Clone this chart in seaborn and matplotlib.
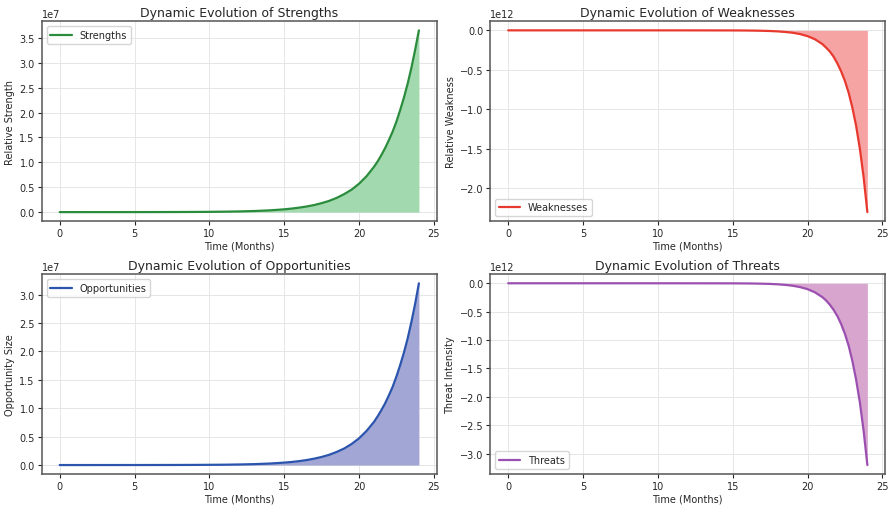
import pandas as pd
import matplotlib
matplotlib.use("Agg")
import matplotlib.pyplot as plt
import seaborn as sns

# Months, values (denser near the end where curves bend)
months = [0, 1, 2, 3, 4, 5, 6, 7, 8, 9, 10, 11, 12, 13, 14, 14.5, 15, 15.5, 16, 16.5,
          17, 17.5, 18, 18.5, 19, 19.5, 20, 20.5, 21, 21.25, 21.5, 21.75, 22, 22.25, 22.5,
          22.75, 23, 23.25, 23.5, 23.75, 24]

# Strengths (x 1e7)
strengths = [0.0001, 0.0001, 0.0002, 0.0003, 0.0004, 0.0006, 0.0009, 0.0014, 0.0022, 0.0035,
             0.0055, 0.009, 0.014, 0.022, 0.035, 0.045, 0.056, 0.071, 0.09, 0.113,
             0.142, 0.18, 0.225, 0.285, 0.36, 0.45, 0.57, 0.72, 0.91, 1.02, 1.15, 1.29,
             1.45, 1.62, 1.82, 2.05, 2.3, 2.58, 2.9, 3.26, 3.65]

# Weaknesses (x 1e12)
weaknesses = [0.0, 0.0, 0.0, 0.0, 0.0, 0.0, -0.00001, -0.00001, -0.00002, -0.00004,
              -0.00007, -0.00012, -0.0002, -0.0004, -0.0007, -0.0009, -0.001, -0.0015, -0.0023, -0.0035,
              -0.0055, -0.0085, -0.013, -0.02, -0.03, -0.047, -0.073, -0.113, -0.175, -0.22, -0.27, -0.335,
              -0.42, -0.52, -0.64, -0.79, -0.98, -1.21, -1.5, -1.86, -2.3]

# Opportunities (x 1e7)
opportunities = [0.0001, 0.0001, 0.0001, 0.0002, 0.0003, 0.0004, 0.0006, 0.001, 0.0015, 0.0025,
                 0.004, 0.006, 0.01, 0.016, 0.026, 0.034, 0.043, 0.054, 0.069, 0.088,
                 0.112, 0.142, 0.18, 0.23, 0.29, 0.37, 0.47, 0.6, 0.76, 0.86, 0.97, 1.09,
                 1.23, 1.38, 1.56, 1.76, 1.98, 2.23, 2.52, 2.84, 3.2]

# Threats (x 1e12)
threats = [0.0, 0.0, 0.0, 0.0, 0.0, 0.0, -0.00001, -0.00002, -0.00003, -0.00005,
           -0.00009, -0.00016, -0.0003, -0.0005, -0.0009, -0.0011, -0.0013, -0.002, -0.003, -0.0047,
           -0.0075, -0.0115, -0.018, -0.028, -0.043, -0.067, -0.103, -0.16, -0.245, -0.305, -0.38, -0.47,
           -0.58, -0.72, -0.89, -1.1, -1.37, -1.7, -2.1, -2.6, -3.2]

panels = [
    ("Strengths", strengths, 1e7, "Relative Strength", "Dynamic Evolution of Strengths",
     "#2a8c3c", "#a3d9ae", "upper left"),
    ("Weaknesses", weaknesses, 1e12, "Relative Weakness", "Dynamic Evolution of Weaknesses",
     "#e8392f", "#f5a3a3", "lower left"),
    ("Opportunities", opportunities, 1e7, "Opportunity Size", "Dynamic Evolution of Opportunities",
     "#2b55ad", "#a2a6d4", "upper left"),
    ("Threats", threats, 1e12, "Threat Intensity", "Dynamic Evolution of Threats",
     "#9b4fb0", "#d8a5cf", "lower left"),
]

sns.set_style("ticks")
plt.rcParams["font.family"] = ["DejaVu Sans"]

fig, axes = plt.subplots(2, 2, figsize=(8.88, 5.06), dpi=100)

for ax, (name, vals, scale, ylabel, title, line_c, fill_c, loc) in zip(axes.flat, panels):
    df = pd.DataFrame({"month": months, "value": [v * scale for v in vals]})
    ax.fill_between(df["month"], df["value"], 0, color=fill_c, linewidth=0)
    sns.lineplot(data=df, x="month", y="value", color=line_c, linewidth=1.6, label=name, ax=ax)
    ax.set_title(title, fontsize=9, pad=4)
    ax.set_xlabel("Time (Months)", fontsize=7, labelpad=2)
    ax.set_ylabel(ylabel, fontsize=7, labelpad=3)
    ax.tick_params(labelsize=7, length=3, pad=2)
    ax.yaxis.get_offset_text().set_fontsize(7)
    ax.set_xticks([0, 5, 10, 15, 20, 25])
    ax.grid(True, color="#e6e6e6", linewidth=0.7)
    ax.legend(loc=loc, fontsize=7, handlelength=2.2)
    for s in ax.spines.values():
        s.set_color("#555555")
        s.set_linewidth(1.1)

fig.subplots_adjust(left=0.047, right=0.997, top=0.956, bottom=0.061, wspace=0.135, hspace=0.265)
plt.savefig("out.png", dpi=100)
